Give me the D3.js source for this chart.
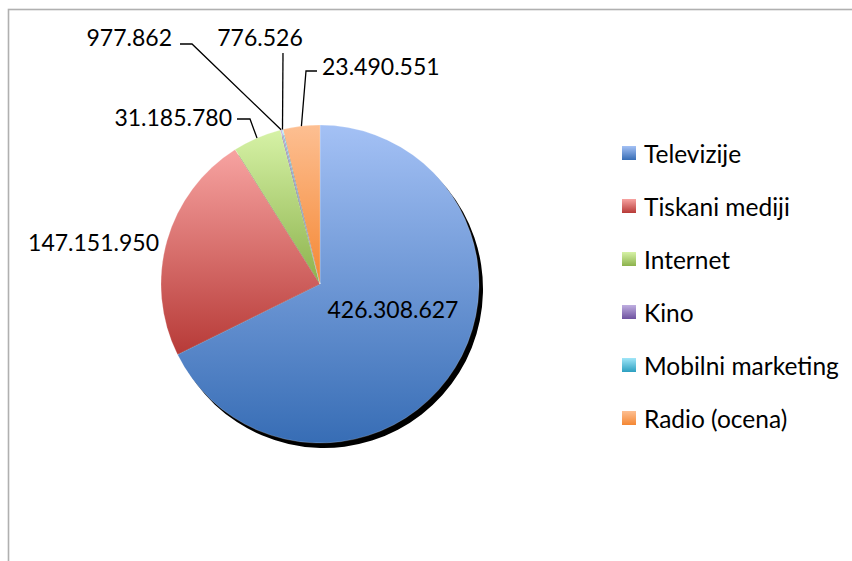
<!DOCTYPE html>
<html>
<head>
<meta charset="utf-8">
<script src="https://cdnjs.cloudflare.com/ajax/libs/d3/7.8.5/d3.min.js"></script>
<style>
    body { margin: 0; background: #fff; }
    svg text { font-family: Lato, 'Open Sans', sans-serif; fill: #000; }
</style>
</head>
<body>
<svg id="chart" width="852" height="561"></svg>
<script>
const categories = ['Televizije', 'Tiskani mediji', 'Internet', 'Kino', 'Mobilni marketing', 'Radio (ocena)'];
const values = [426308627, 147151950, 31185780, 977862, 776526, 23490551];
const valueLabels = ['426.308.627', '147.151.950', '31.185.780', '977.862', '776.526', '23.490.551'];

// gradient stops per slice: [light top, dark bottom]
const colors = [
    ['#a4c1f5', '#376db5'],
    ['#f7a3a1', '#b73a37'],
    ['#d6f2a6', '#8cb24c'],
    ['#bfaee0', '#6e52a0'],
    ['#a0e6f8', '#2c9fc0'],
    ['#fdbf92', '#f48733']
];

// label placement (Excel-style, dragged by hand)
// inside: text centre; outside: text position + elbow of leader line
const labelLayout = [
    { inside: true, x: 393, y: 309 },
    { x: 159, y: 242, anchor: 'end' },
    { x: 232, y: 117, anchor: 'end', elbow: [250, 119], end: [237, 119] },
    { x: 172, y: 37, anchor: 'end', elbow: [192, 44], end: [180, 44] },
    { x: 260, y: 37, anchor: 'middle', elbow: null, end: [283, 53] },
    { x: 322, y: 66, anchor: 'start', elbow: [306, 71], end: [317, 71] }
];

const svg = d3.select('#chart');
const cx = 320, cy = 284, radius = 159;

// frame
svg.append('rect')
    .attr('x', 8.5)
    .attr('y', 9.5)
    .attr('width', 900)
    .attr('height', 600)
    .attr('fill', 'none')
    .attr('stroke', '#b0b0b0')
    .attr('stroke-width', 1.6);

const defs = svg.append('defs');
colors.forEach((c, i) => {
    const grad = defs.append('linearGradient')
        .attr('id', 'grad' + i)
        .attr('x1', 0).attr('y1', 0)
        .attr('x2', 0).attr('y2', 1);
    grad.append('stop').attr('offset', '0%').attr('stop-color', c[0]);
    grad.append('stop').attr('offset', '100%').attr('stop-color', c[1]);
});

const shadowFilter = defs.append('filter').attr('id', 'soft');
shadowFilter.append('feGaussianBlur').attr('stdDeviation', 0.6);

const data = categories.map((c, i) => ({ name: c, value: values[i], label: valueLabels[i], idx: i }));

const pie = d3.pie()
    .value(d => d.value)
    .sort(null);
const arcs = pie(data);

const arc = d3.arc()
    .innerRadius(0)
    .outerRadius(radius);

// shadow
svg.append('g')
    .attr('transform', 'translate(' + (cx + 4) + ',' + (cy + 5) + ')')
    .attr('filter', 'url(#soft)')
    .selectAll('path')
    .data(arcs)
    .enter()
    .append('path')
        .attr('d', arc)
        .attr('fill', '#000');

// slices
const g = svg.append('g')
    .attr('transform', 'translate(' + cx + ',' + cy + ')');

g.selectAll('path.slice')
    .data(arcs)
    .enter()
    .append('path')
        .attr('class', 'slice')
        .attr('d', arc)
        .attr('fill', d => 'url(#grad' + d.data.idx + ')')
        .attr('stroke', 'rgba(255,255,255,0.35)')
        .attr('stroke-width', 0.6);

// labels + leader lines
arcs.forEach((d, i) => {
    const lay = labelLayout[i];
    if (lay.inside) {
        svg.append('text')
            .attr('x', lay.x)
            .attr('y', lay.y)
            .attr('text-anchor', 'middle')
            .attr('dominant-baseline', 'central')
            .style('font-size', '23px')
            .text(d.data.label);
        return;
    }
    if (lay.end) {
        const mid = (d.startAngle + d.endAngle) / 2;
        const anchorPt = [cx + radius * Math.sin(mid), cy - radius * Math.cos(mid)];
        const pts = [anchorPt];
        if (lay.elbow) pts.push(lay.elbow);
        pts.push(lay.end);
        svg.append('path')
            .attr('d', d3.line()(pts))
            .attr('fill', 'none')
            .attr('stroke', '#000')
            .attr('stroke-width', 1.3);
    }
    svg.append('text')
        .attr('x', lay.x)
        .attr('y', lay.y)
        .attr('text-anchor', lay.anchor)
        .attr('dominant-baseline', 'central')
        .style('font-size', '23px')
        .text(d.data.label);
});

// legend
const legend = svg.append('g')
    .attr('transform', 'translate(622,153)');

categories.forEach((c, i) => {
    const row = legend.append('g')
        .attr('transform', 'translate(0,' + (i * 53) + ')');
    row.append('rect')
        .attr('x', 0)
        .attr('y', -7)
        .attr('width', 14)
        .attr('height', 14)
        .attr('fill', 'url(#grad' + i + ')');
    row.append('text')
        .attr('x', 22)
        .attr('y', 0)
        .attr('dominant-baseline', 'central')
        .style('font-size', '24.5px')
        .text(c);
});
</script>
</body>
</html>
